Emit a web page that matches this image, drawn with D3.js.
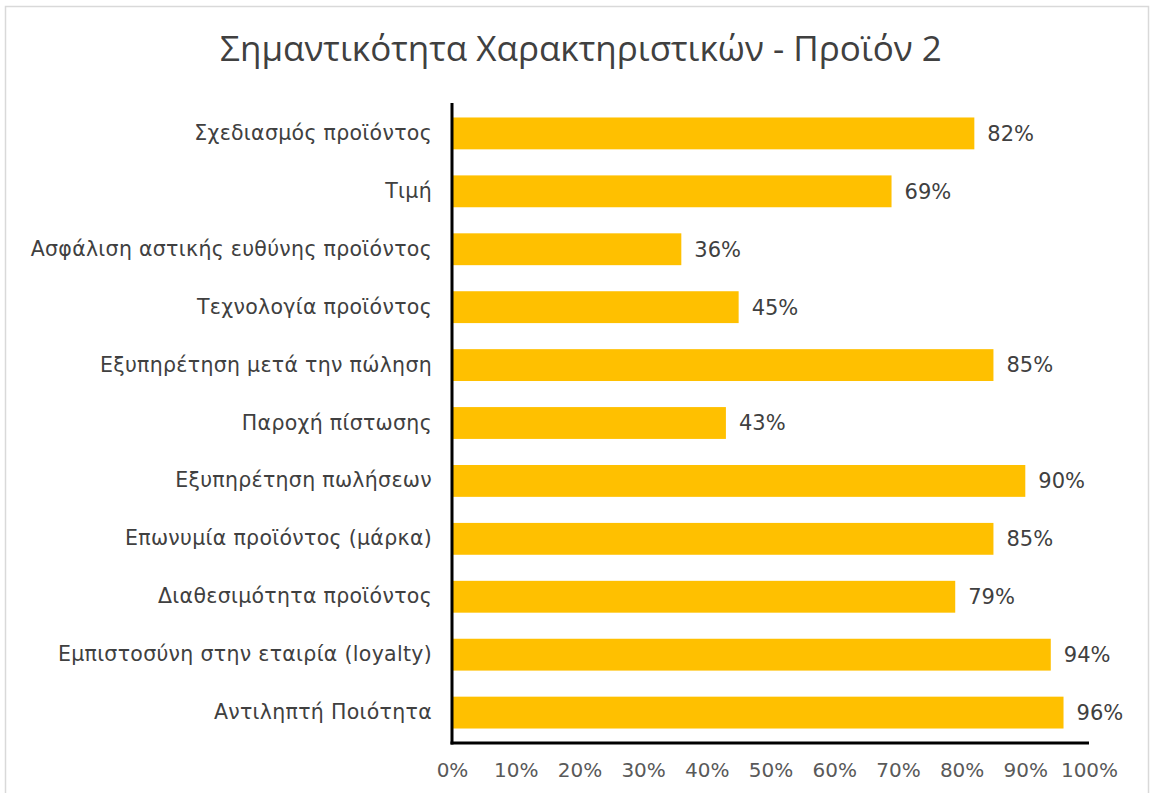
<!DOCTYPE html>
<html>
<head>
<meta charset="utf-8">
<script src="https://cdn.jsdelivr.net/npm/d3@7"></script>
<style>
  body { margin: 0; background: #fff; }
  .cat text { font-family: "DejaVu Sans", sans-serif; font-size: 20.5px; fill: #404040; letter-spacing: 0.3px; }
  .val { font-family: "DejaVu Sans", sans-serif; font-size: 21px; fill: #404040; }
  .xaxis text { font-family: "DejaVu Sans", sans-serif; font-size: 20px; fill: #595959; }
</style>
</head>
<body>
<div id="plot"></div>
<script>
// data
var categories = [
    "Σχεδιασμός προϊόντος",
    "Τιμή",
    "Ασφάλιση αστικής ευθύνης προϊόντος",
    "Τεχνολογία προϊόντος",
    "Εξυπηρέτηση μετά την πώληση",
    "Παροχή πίστωσης",
    "Εξυπηρέτηση πωλήσεων",
    "Επωνυμία προϊόντος (μάρκα)",
    "Διαθεσιμότητα προϊόντος",
    "Εμπιστοσύνη στην εταιρία (loyalty)",
    "Αντιληπτή Ποιότητα"
];
var values = [0.82, 0.69, 0.36, 0.45, 0.85, 0.43, 0.90, 0.85, 0.79, 0.94, 0.96];
var ticks = [0, 0.1, 0.2, 0.3, 0.4, 0.5, 0.6, 0.7, 0.8, 0.9, 1.0];
var title = "Σημαντικότητα Χαρακτηριστικών - Προϊόν 2";

function plot_bars(){
    var width = 1152,
        height = 793,
        margin = {left:452, top:103, right:63, bottom:50};

    var svg = d3.select("#plot")
        .append("svg")
        .attr("width", width)
        .attr("height", height);

    // frame
    svg.append("rect")
        .attr("x", 5.5).attr("y", 6.5)
        .attr("width", 1143).attr("height", 800)
        .attr("fill", "none")
        .attr("stroke", "#d9d9d9")
        .attr("stroke-width", 1.5);

    var xScale = d3.scaleLinear()
        .domain([0,1])
        .range([margin.left, width-margin.right]);

    var yScale = d3.scaleBand()
        .domain(categories)
        .range([margin.top, height-margin.bottom])
        .paddingInner(0.45)
        .paddingOuter(0.25);

    // bars
    svg.selectAll(".bar")
        .data(values)
        .enter()
        .append("rect")
        .attr("class","bar")
        .attr("x", xScale(0))
        .attr("y", function(d,i){ return yScale(categories[i]); })
        .attr("width", function(d){ return xScale(d)-xScale(0); })
        .attr("height", yScale.bandwidth())
        .attr("fill", "#FFC000");

    // value labels
    svg.selectAll(".val")
        .data(values)
        .enter()
        .append("text")
        .attr("class","val")
        .attr("x", function(d){ return xScale(d)+13; })
        .attr("y", function(d,i){ return yScale(categories[i])+yScale.bandwidth()/2; })
        .attr("dy","0.35em")
        .text(function(d){ return Math.round(d*100)+"%"; });

    // category axis
    var yAxis = d3.axisLeft(yScale).tickSize(0).tickPadding(20);
    var gy = svg.append("g")
        .attr("class","cat")
        .attr("transform",`translate(${xScale(0)},0)`)
        .call(yAxis);
    gy.select(".domain").remove();

    // value axis
    var xAxis = d3.axisBottom(xScale)
        .tickValues(ticks)
        .tickSize(0)
        .tickPadding(20)
        .tickFormat(d3.format(".0%"));
    var gx = svg.append("g")
        .attr("class","xaxis")
        .attr("transform",`translate(0,${height-margin.bottom})`)
        .call(xAxis);
    gx.select(".domain").remove();

    // axis lines
    svg.append("line")
        .attr("x1", xScale(0)).attr("x2", xScale(0))
        .attr("y1", margin.top).attr("y2", height-margin.bottom+1.5)
        .attr("stroke", "#000").attr("stroke-width", 3);
    svg.append("line")
        .attr("x1", xScale(0)-1.5).attr("x2", xScale(1))
        .attr("y1", height-margin.bottom).attr("y2", height-margin.bottom)
        .attr("stroke", "#000").attr("stroke-width", 3);

    // title
    svg.append("text")
        .attr("x", 581).attr("y", 61)
        .attr("text-anchor","middle")
        .attr("font-family","'Open Sans', sans-serif")
        .attr("font-size", 35)
        .attr("fill", "#404040")
        .text(title);
}

plot_bars();
</script>
</body>
</html>
